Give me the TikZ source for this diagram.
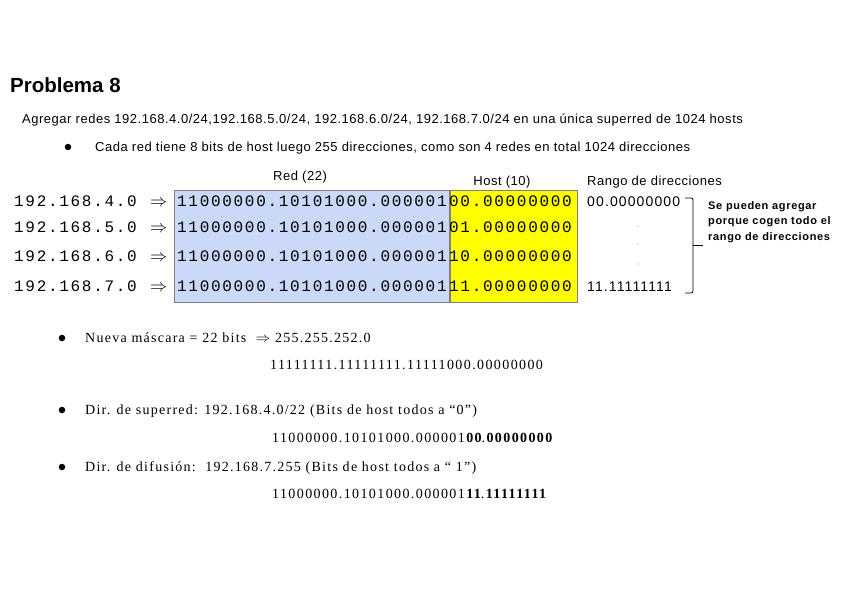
\documentclass[tikz,border=0pt]{standalone}
\usepackage{fontspec}
\setmainfont{Liberation Sans}
\setmonofont{Liberation Mono}
\newfontfamily\sansspaced[LetterSpace=4]{Liberation Sans}
\newfontfamily\sanswide[LetterSpace=8]{Liberation Sans}
\newfontfamily\sansnote[LetterSpace=6]{Liberation Sans}
\newfontfamily\monospaced[LetterSpace=10.6]{Liberation Mono}
\newfontfamily\timesspaced[LetterSpace=9]{Liberation Serif}
\newfontfamily\timeswide[LetterSpace=10]{Liberation Serif}
\usetikzlibrary{positioning}
\definecolor{netblue}{HTML}{C9D9F7}
\definecolor{hostyellow}{HTML}{FFFF00}
\definecolor{boxgray}{HTML}{808080}
\tikzset{
	titletext/.style={
			anchor=base west,
			inner sep=0pt,
			font=\fontsize{20.5}{24}\selectfont\bfseries
		},
	plaintext/.style={
			anchor=base west,
			inner sep=0pt,
			font=\fontsize{13}{15}\sansspaced
		},
	labeltext/.style={
			plaintext,
			anchor=base
		},
	monotext/.style={
			anchor=base west,
			inner sep=0pt,
			font=\fontsize{16}{19}\monospaced
		},
	rangetext/.style={
			anchor=base west,
			inner sep=0pt,
			font=\fontsize{14}{17}\sanswide
		},
	notetext/.style={
			anchor=north west,
			inner sep=0pt,
			align=left,
			font=\fontsize{11}{15.5}\sansnote\bfseries
		},
	seriftext/.style={
			anchor=base west,
			inner sep=0pt,
			font=\fontsize{14}{16}\timesspaced
		},
	bitstext/.style={
			anchor=base west,
			inner sep=0pt,
			font=\fontsize{14}{16}\timeswide
		},
	bulletdot/.style={
			circle,
			fill=black,
			inner sep=0pt,
			minimum size=6.5pt
		},
	netbox/.style={
			draw=boxgray,
			fill=netblue,
			thick,
			inner sep=0pt,
			anchor=north west,
			minimum width=275pt,
			minimum height=112pt
		},
	hostbox/.style={
			netbox,
			fill=hostyellow,
			minimum width=127pt
		},
	rangedot/.style={
			circle,
			fill=gray,
			inner sep=0pt,
			minimum size=1.3pt
		}
}
\begin{document}
\begin{tikzpicture}[x=1pt, y=-1pt]
	\useasboundingbox (0,0) rectangle (848,599);

	\node[titletext] (title) at (10,93) {Problema 8};
	\node[plaintext] (intro) at (22,124) {Agregar redes 192.168.4.0/24,192.168.5.0/24, 192.168.6.0/24, 192.168.7.0/24 en una única superred de 1024 hosts};
	\node[bulletdot] (b1) at (68,147) {};
	\node[plaintext] (cada) at (95,151) {Cada red tiene 8 bits de host luego 255 direcciones, como son 4 redes en total 1024 direcciones};

	% cajas de red y host
	\node[netbox] (redbox) at (174,190) {};
	\node[hostbox] (hostbox) at (redbox.north east) {};
	\node[labeltext] (redlbl) at (300,180) {Red (22)};
	\node[labeltext] (hostlbl) at (502,185) {Host (10)};
	\node[plaintext] (rangolbl) at (587,185) {Rango de direcciones};

	\foreach \i/\h/\y in {4/00/206, 5/01/232, 6/10/261, 7/11/291}{
		\node[monotext] (ip\i) at (14,\y) {192.168.\i.0};
		\node[monotext, font=\fontsize{16}{19}\normalfont] (arr\i) at (150,\y) {$\Rightarrow$};
		\node[monotext] (net\i) at (177,\y) {11000000.10101000.000001};
		\node[monotext] (host\i) at (449,\y) {\h.00000000};
	}

	% rango
	\node[rangetext] (first) at (587,206) {00.00000000};
	\node[rangetext] (last) at (587,291) {11.11111111};
	\foreach \j/\y in {a/226, b/244, c/264}
		\node[rangedot] (dot\j) at (638,\y) {};

	\coordinate (btop) at (685,198);
	\coordinate (bbot) at (685,293);
	\coordinate (bmid) at (703,245);
	\draw[thick, rounded corners=2pt] (btop) -- (693,198) -- (693,293) -- (bbot);
	\draw[thick] (693,245) -- (bmid);
	\node[notetext] (note) at (708,201) {Se pueden agregar\\porque cogen todo el\\rango de direcciones};

	% mascara y direcciones
	\node[bulletdot] (b2) at (62,338) {};
	\node[seriftext] (mask) at (85,342) {Nueva máscara = 22 bits\ \ {\normalfont$\Rightarrow$} 255.255.252.0};
	\node[bitstext] (maskbits) at (270,369) {11111111.11111111.11111000.00000000};

	\node[bulletdot] (b3) at (62,410) {};
	\node[seriftext] (superred) at (85,414) {Dir. de superred: 192.168.4.0/22 (Bits de host todos a “0”)};
	\node[bitstext] (superbits) at (272,442) {11000000.10101000.000001\textbf{00}.\textbf{00000000}};

	\node[bulletdot] (b4) at (62,467) {};
	\node[seriftext] (difusion) at (85,471) {Dir. de difusión:\ \ 192.168.7.255 (Bits de host todos a “ 1”)};
	\node[bitstext] (difbits) at (272,498) {11000000.10101000.000001\textbf{11}.\textbf{11111111}};
\end{tikzpicture}
\end{document}
